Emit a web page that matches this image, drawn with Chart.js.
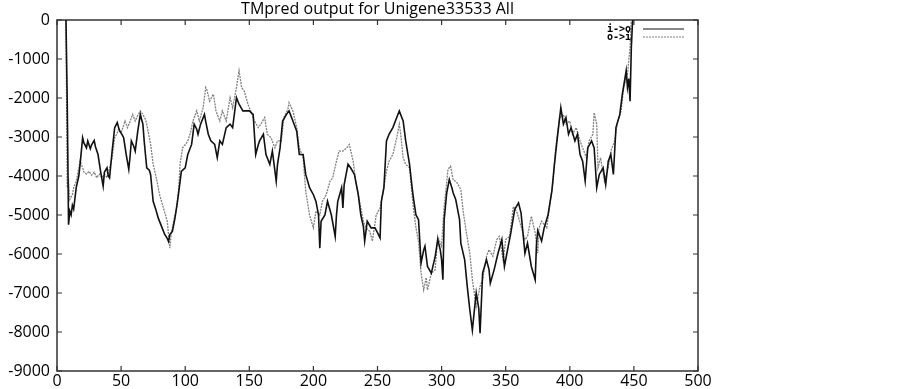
<!DOCTYPE html>
<html><head><meta charset="utf-8">
<script src="https://cdn.jsdelivr.net/npm/chart.js@4.4.0/dist/chart.umd.min.js"></script>
<style>html,body{margin:0;padding:0;background:#fff;}#wrap{width:903px;height:389px;}</style>
</head><body><div id="wrap"><canvas id="c" width="903" height="389"></canvas></div>
<script>
const titleText = "TMpred output for Unigene33533 All";
const seriesNames = ["i->o", "o->i"];
const xTicks = [0, 50, 100, 150, 200, 250, 300, 350, 400, 450, 500];
const yTicks = [-9000, -8000, -7000, -6000, -5000, -4000, -3000, -2000, -1000, 0];

const posIO = [7,8,9,10,11,12,13,15,17,18,20,21,23,24,26,27,29,30,32,34,36,37,39,40,41,43,45,47,48,49,51,52,54,56,57,58,60,61,63,65,66,67,68,69,70,72,73,75,77,79,82,84,86,87,88,90,92,94,95,97,100,102,105,107,109,110,112,115,116,118,120,123,125,127,129,131,132,135,137,138,140,142,145,148,150,153,155,157,158,161,163,166,168,171,172,174,176,179,181,184,187,189,192,194,197,200,202,204,205,206,209,211,214,217,218,219,222,223,224,227,229,232,235,237,239,240,242,245,248,250,252,253,255,257,259,262,265,267,270,272,275,277,278,280,282,284,286,287,289,292,295,297,299,300,301,302,304,306,308,309,311,314,315,318,320,322,324,326,327,329,330,332,335,337,338,341,344,347,349,352,354,357,360,362,365,367,370,373,374,375,378,380,383,386,388,390,393,395,397,399,401,404,406,408,410,412,414,417,419,421,423,426,428,430,432,434,436,439,441,443,444,445,446,447,448,449];
const valIO = [0,-2150,-5250,-4900,-5000,-4750,-4850,-4300,-4000,-3700,-3020,-3150,-3275,-3100,-3300,-3200,-3090,-3250,-3450,-3880,-4260,-3900,-3790,-4000,-4050,-3360,-2760,-2630,-2750,-2850,-2950,-3020,-3450,-3830,-3500,-3100,-3250,-3360,-2850,-2420,-2550,-2670,-3100,-3450,-3790,-3850,-3960,-4650,-4850,-5080,-5330,-5500,-5600,-5680,-5500,-5420,-5080,-4650,-4400,-3880,-3790,-3450,-3190,-2670,-2800,-2930,-2670,-2420,-2600,-2930,-3100,-3190,-3530,-3100,-3190,-2900,-2760,-2670,-2760,-2500,-1990,-2160,-2330,-2330,-2330,-2420,-3450,-3200,-3100,-2930,-3450,-3700,-3360,-4130,-3700,-3280,-2590,-2420,-2330,-2590,-2850,-3450,-3450,-3960,-4300,-4480,-4650,-5000,-5850,-5160,-5000,-4650,-5000,-5550,-5000,-4650,-4300,-4820,-4220,-3700,-3790,-3960,-4480,-5000,-5300,-5670,-5160,-5330,-5330,-5450,-5590,-4650,-4300,-3100,-2930,-2760,-2500,-2330,-2590,-3100,-3700,-4300,-4560,-5000,-5120,-6230,-5900,-5800,-6320,-6490,-6060,-5630,-5900,-6150,-6660,-5120,-4430,-4090,-4300,-4430,-4600,-5120,-5720,-6150,-6830,-7430,-7950,-7300,-7000,-7400,-8030,-6490,-6150,-6400,-6750,-6400,-5980,-5630,-6320,-5800,-5460,-4860,-4690,-4950,-5980,-5720,-6320,-6660,-5760,-5400,-5670,-5330,-5000,-4390,-3700,-3100,-2250,-2670,-2500,-2930,-2760,-3100,-2930,-3450,-3620,-4130,-3280,-3100,-3280,-4300,-3960,-3790,-4220,-3620,-3450,-3960,-2760,-2420,-1900,-1500,-1300,-1730,-1500,-2080,-700,0];

const posOI = [7,8,9,10,12,13,15,17,18,20,21,23,25,27,29,31,33,35,37,39,41,43,45,47,48,50,52,53,55,57,59,61,63,65,67,69,70,73,75,78,80,83,86,87,88,89,90,92,93,94,95,96,98,100,102,104,106,109,111,114,116,117,119,122,124,127,129,132,135,137,140,142,144,146,149,152,154,157,159,162,164,167,170,172,175,177,180,181,184,187,189,192,194,197,200,202,205,207,210,213,215,218,220,223,226,228,231,233,236,239,241,244,246,249,252,254,257,259,262,265,267,268,270,272,275,278,280,282,284,286,288,289,292,295,297,300,302,305,307,309,312,315,317,319,322,324,327,330,332,335,337,340,343,345,348,350,353,356,359,362,365,367,370,373,375,376,378,382,384,387,389,392,395,397,400,402,405,408,410,413,415,418,419,421,422,424,427,430,432,435,437,440,442,445,447,448];
const valOI = [0,-4300,-4130,-4600,-4480,-4300,-4130,-3800,-3620,-3790,-3900,-3950,-3880,-3980,-3900,-4045,-3950,-4045,-3950,-4045,-3800,-3530,-3020,-2900,-2800,-2890,-2700,-2590,-2760,-2600,-2420,-2590,-2450,-2330,-2420,-2550,-2670,-3190,-3700,-4130,-4480,-4820,-5160,-5500,-5850,-5500,-5330,-5000,-4900,-4600,-4300,-3700,-3275,-3200,-3100,-2900,-2590,-2330,-2590,-2250,-1730,-1800,-2080,-1900,-2330,-2590,-2330,-2590,-1990,-2250,-1730,-1300,-1730,-1820,-2160,-2420,-2590,-2760,-2670,-2500,-2930,-3020,-3280,-3100,-3100,-2500,-2300,-2120,-2330,-2760,-3280,-3530,-4390,-5000,-5330,-4900,-5000,-4650,-4480,-4130,-4050,-3620,-3360,-3360,-3280,-3190,-3620,-4130,-4650,-5160,-5330,-5420,-5670,-5000,-4820,-4480,-3880,-3620,-3450,-3020,-2670,-2900,-3530,-3700,-3790,-4820,-5330,-5670,-6490,-6920,-6600,-6920,-6490,-6400,-5550,-5800,-4780,-3830,-3750,-4090,-4170,-4350,-4950,-5380,-5980,-6660,-7350,-6830,-6660,-6060,-5890,-6060,-5630,-5550,-6150,-5630,-5550,-4780,-4950,-5290,-5630,-5550,-5030,-5460,-5980,-5330,-5160,-5330,-4820,-4130,-3280,-2500,-2420,-2670,-2590,-2930,-2760,-3100,-3280,-3530,-3100,-2930,-2380,-2670,-3790,-3530,-4130,-3790,-3360,-3100,-2670,-2330,-1730,-1390,-700,0];

function pts(xs, ys) { return xs.map((x, i) => ({x: x, y: ys[i]})); }

const tickFont = {family: "'Open Sans', sans-serif", size: 16};

const framePlugin = {
  id: 'frame',
  beforeDatasetsDraw(chart) {
    const a = chart.chartArea, ctx = chart.ctx;
    ctx.save();
    ctx.strokeStyle = '#333';
    ctx.lineWidth = 1.5;
    ctx.strokeRect(a.left, a.top, a.right - a.left, a.bottom - a.top);
    const xs = chart.scales.x, ys = chart.scales.y;
    ctx.lineWidth = 1.2;
    ctx.beginPath();
    xTicks.forEach(v => {
      const px = xs.getPixelForValue(v);
      ctx.moveTo(px, a.bottom); ctx.lineTo(px, a.bottom - 5);
      ctx.moveTo(px, a.top); ctx.lineTo(px, a.top + 5);
    });
    yTicks.forEach(v => {
      const py = ys.getPixelForValue(v);
      ctx.moveTo(a.left, py); ctx.lineTo(a.left + 5, py);
      ctx.moveTo(a.right, py); ctx.lineTo(a.right - 5, py);
    });
    ctx.stroke();
    ctx.restore();
  },
  afterDraw(chart) {
    const a = chart.chartArea, ctx = chart.ctx;
    ctx.save();
    ctx.fillStyle = '#000';
    ctx.font = "16px 'Open Sans', sans-serif";
    ctx.textAlign = 'center';
    ctx.textBaseline = 'alphabetic';
    ctx.fillText(titleText, (a.left + a.right) / 2, 13.5);
    ctx.font = "bold 10px 'DejaVu Sans Mono', monospace";
    ctx.textAlign = 'right';
    ctx.textBaseline = 'middle';
    const ds = chart.data.datasets;
    seriesNames.forEach((name, i) => {
      const y = 29 + i * 8;
      ctx.fillStyle = '#000';
      ctx.fillText(name, 631, y);
      ctx.strokeStyle = ds[i].borderColor;
      ctx.lineWidth = 1.2;
      ctx.setLineDash(ds[i].borderDash || []);
      ctx.beginPath(); ctx.moveTo(643, y); ctx.lineTo(684, y); ctx.stroke();
    });
    ctx.restore();
  }
};

new Chart(document.getElementById('c'), {
  type: 'line',
  data: {
    datasets: [
      {label: seriesNames[0], data: pts(posIO, valIO), borderColor: '#111', borderWidth: 1.6, pointRadius: 0, tension: 0, fill: false},
      {label: seriesNames[1], data: pts(posOI, valOI), borderColor: '#808080', borderWidth: 1.3, borderDash: [2, 1], pointRadius: 0, tension: 0, fill: false}
    ]
  },
  options: {
    responsive: false,
    animation: false,
    devicePixelRatio: 1,
    layout: {padding: {left: 0, top: 20, right: 205, bottom: 0}},
    plugins: {legend: {display: false}, title: {display: false}, tooltip: {enabled: false}},
    scales: {
      x: {
        type: 'linear', min: 0, max: 500,
        afterBuildTicks(s) { s.ticks = xTicks.map(v => ({value: v})); },
        afterFit(s) { s.height = 18; },
        ticks: {font: tickFont, color: '#000', padding: 1, maxRotation: 0, autoSkip: false, callback: v => String(v)},
        grid: {display: false, drawTicks: false},
        border: {display: false}
      },
      y: {
        type: 'linear', min: -9000, max: 0,
        afterBuildTicks(s) { s.ticks = yTicks.map(v => ({value: v})); },
        afterFit(s) { s.width = 57; },
        ticks: {font: tickFont, color: '#000', padding: 7, autoSkip: false, callback: v => String(v)},
        grid: {display: false, drawTicks: false},
        border: {display: false}
      }
    }
  },
  plugins: [framePlugin]
});
</script>
</body></html>
